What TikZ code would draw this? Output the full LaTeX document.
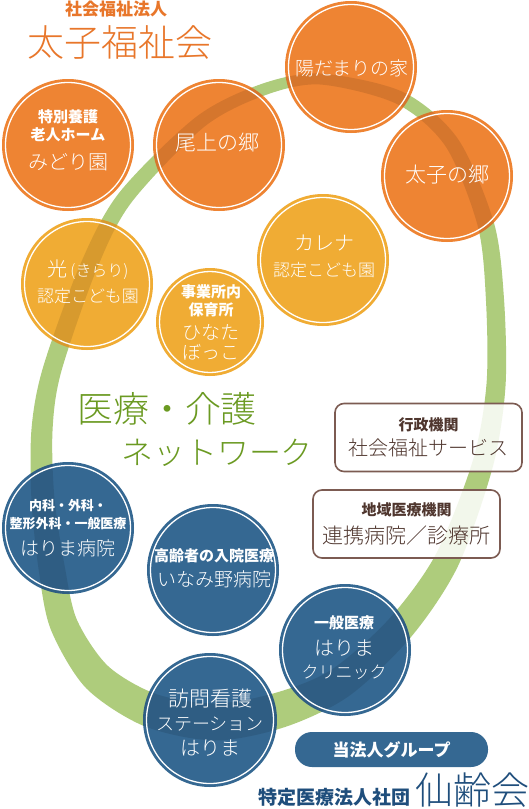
\documentclass[tikz,border=0pt]{standalone}
\usepackage{fontspec}
\setmainfont{Noto Sans CJK JP}
\newfontfamily\lightjp{Noto Sans CJK JP Light}
\usepackage{tikz}

\definecolor{orangec}{HTML}{EE8433}
\definecolor{yellowc}{HTML}{F0AC34}
\definecolor{bluec}{HTML}{356892}
\definecolor{navyc}{HTML}{1F4E7C}
\definecolor{ringc}{HTML}{AECC7C}
\definecolor{leafc}{HTML}{6B9A22}
\definecolor{titlec}{HTML}{E8762A}
\definecolor{boxc}{HTML}{7C5B52}
\definecolor{boxtext}{HTML}{4F362E}

\newcommand{\sz}[2]{{\fontsize{#1}{#1}\selectfont\lightjp #2}}
\newcommand{\bsz}[2]{{\fontsize{#1}{#1}\selectfont\bfseries #2}}

% the green loop, outer and inner edge
\newcommand{\ringpath}{%
 plot[smooth cycle] coordinates {(320,73.5) (403,92) (458,139) (494,223) (504,299) (505.5,386)
   (493,466) (458,566) (411,637) (349,696) (285,727) (215,740.5) (144,726) (86,688) (51,630)
   (39,572) (31.5,501) (31.5,429) (43,367.5) (80,265) (119,193) (196,117) (260,84.5)}
 plot[smooth cycle] coordinates {(320,84.5) (397,104) (446,147) (478,227) (486,301) (486.5,384)
   (473,460) (436,554) (389,619) (331,670) (275,693) (215,703.5) (156,694) (108,666) (77,620)
   (65,568) (54.5,499) (52.5,431) (61,372.5) (96,271) (131,203) (204,127) (264,95.6)}}

\begin{document}
\begin{tikzpicture}[x=1pt,y=-1pt,
  inball/.style={align=center, text=white, inner sep=0pt, font=\fontsize{15}{18}\selectfont},
  infobox/.style={draw=boxc, line width=1.6pt, rounded corners=9pt, fill=white, fill opacity=0.85,
    text opacity=1, minimum width=187pt, minimum height=68pt, align=center, text=boxtext,
    font=\fontsize{15}{18}\selectfont},
  pill/.style={fill=bluec, rounded corners=17pt, minimum width=193pt, minimum height=35pt,
    inner sep=0pt, text=white, font=\fontsize{17}{17}\selectfont\bfseries},
  heading/.style={inner sep=0pt}]
\useasboundingbox (0,0) rectangle (528,809);
\fill[white] (0,0) rectangle (528,809);

\fill[ringc, even odd rule] \ringpath;

% circle centres
\coordinate (midori) at (68,145);
\coordinate (onoe) at (219,145);
\coordinate (hidamari) at (351,67);
\coordinate (taishi) at (447,176);
\coordinate (kirari) at (87,284);
\coordinate (hinata) at (210,322);
\coordinate (karena) at (323,260);
\coordinate (harima) at (68,528);
\coordinate (inamino) at (213,570);
\coordinate (clinic) at (345,650);
\coordinate (houmon) at (210,720);

\foreach \c/\r/\col in {midori/66/orangec, onoe/66/orangec, hidamari/66/orangec, taishi/66/orangec,
    kirari/66/yellowc, hinata/54/yellowc, karena/66/yellowc,
    harima/66/bluec, inamino/66/bluec, clinic/66/bluec, houmon/67/bluec}
  \fill[\col] (\c) circle[radius=\r pt];

% loop seen through the circles
\begin{scope}
\clip foreach \c/\r in {midori/66, onoe/66, hidamari/66, taishi/66, kirari/66, hinata/54,
    karena/66, harima/66, inamino/66, clinic/66, houmon/67} {(\c) circle[radius=\r pt]};
\fill[black, opacity=0.1, even odd rule] \ringpath;
\end{scope}

\foreach \c/\r in {midori/66, onoe/66, hidamari/66, taishi/66, kirari/66, hinata/54,
    karena/66, harima/66, inamino/66, clinic/66, houmon/67}
  \draw[white, line width=1.3pt] (\c) circle[radius=\r pt-3.5pt];

\node[inball] (tMidori) at (68,140.5) {\bsz{15}{特別養護}\\ \bsz{15}{老人ホーム}\\[11pt] \sz{20}{みどり園}};
\node[inball] (tOnoe) at (217,143) {\sz{21}{尾上の郷}};
\node[inball] (tHidamari) at (352,68) {\sz{19}{陽だまりの家}};
\node[inball] (tTaishi) at (447,175) {\sz{21}{太子の郷}};
\node[inball] (tKirari) at (88,281.5) {\sz{20}{光\kern3pt\sz{16}{(きらり)}}\\[8pt] \sz{17}{認定こども園}};
\node[inball] (tHinata) at (211,322.5) {\bsz{15}{事業所内}\\ \bsz{15}{保育所}\\[6.5pt] \sz{19}{ひなた}\\[2pt] \sz{19}{ぼっこ}};
\node[inball] (tKarena) at (324,256.5) {\sz{20}{カレナ}\\[8pt] \sz{17}{認定こども園}};
\node[inball] (tHarima) at (68,528.5) {\bsz{13}{内科・外科・}\\ \bsz{13}{整形外科・一般医療}\\[9pt] \sz{19}{はりま病院}};
\node[inball] (tInamino) at (214,568.5) {\bsz{15}{高齢者の入院医療}\\[6.5pt] \sz{19}{いなみ野病院}};
\node[inball] (tClinic) at (344,647.5) {\bsz{15}{一般医療}\\[9pt] \sz{20}{はりま}\\[5pt] \sz{17}{クリニック}};
\node[inball] (tHoumon) at (210,722.5) {\sz{21}{訪問看護}\\[6pt] \sz{18}{ステーション}\\[7pt] \sz{20}{はりま}};

\node[infobox] (gyosei) at (428.5,437.5) {\bsz{15}{行政機関}\\[6pt] \sz{20}{社会福祉サービス}};
\node[infobox] (chiiki) at (406.5,524) {\bsz{15}{地域医療機関}\\[7.3pt] \sz{21}{連携病院／診療所}};

\node[heading, text=titlec] (hojin) at (116,9) {\bsz{17}{社会福祉法人}};
\node[heading, text=titlec] (fukushikai) at (120,42) {\sz{37}{太子福祉会}};
\node[heading, text=leafc] (iryo) at (167,409) {\sz{36}{医療・介護}};
\node[heading, text=leafc] (network) at (217,453) {\sz{32}{ネットワーク}};
\node[pill] (group) at (391.5,749.5) {当法人グループ};
\node[heading, text=navyc] (shadan) at (334,797) {\bsz{19}{特定医療法人社団}};
\node[heading, text=navyc] (senrei) at (472,790) {\sz{38}{仙齢会}};
\end{tikzpicture}
\end{document}
